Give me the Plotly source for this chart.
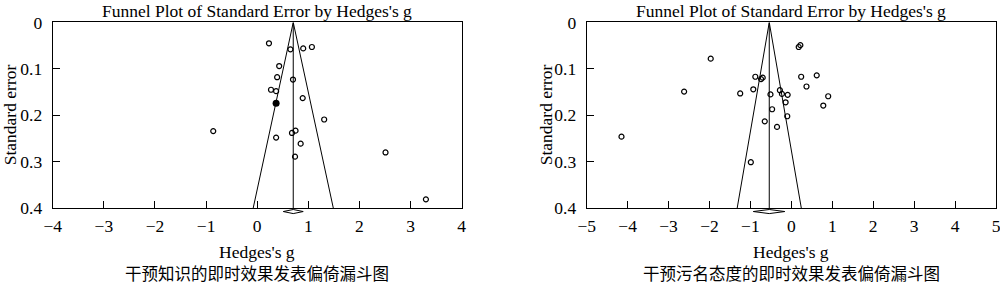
import plotly.graph_objects as go

# ---- data: left panel (knowledge) ----
know_g = [0.23, 0.65, 0.90, 1.07, 0.43, 0.39, 0.70, 0.27, 0.37, 0.89, 1.31, -0.86,
          0.37, 0.68, 0.75, 0.85, 0.74, 2.51, 3.30]
know_se = [0.045, 0.058, 0.056, 0.053, 0.094, 0.118, 0.123, 0.145, 0.148, 0.163, 0.209, 0.234,
           0.248, 0.238, 0.233, 0.261, 0.289, 0.280, 0.381]
know_filled_g = [0.37]
know_filled_se = [0.174]
know_mean = 0.705
know_ci = [0.51, 0.90]

# ---- data: right panel (stigma attitude) ----
stig_g = [0.18, 0.22, 0.24, 0.62, 0.37, 0.90, 0.78, -0.88, -0.74, -0.70, -0.93, -1.25,
          -0.51, -0.28, -0.23, -0.09, -0.14, -0.47, -0.10, -0.65, -0.35, -1.97, -2.62,
          -4.15, -0.99]
stig_se = [0.053, 0.049, 0.117, 0.114, 0.138, 0.159, 0.179, 0.117, 0.122, 0.119, 0.144, 0.153,
           0.155, 0.146, 0.154, 0.156, 0.172, 0.187, 0.202, 0.213, 0.225, 0.078, 0.149,
           0.246, 0.301]
stig_mean = -0.54
stig_ci = [-0.93, -0.16]

se_max = 0.4
title_text = "Funnel Plot of Standard Error by Hedges's g"
x_title = "Hedges's g"
y_title = "Standard error"
captions = ["干预知识的即时效果发表偏倚漏斗图", "干预污名态度的即时效果发表偏倚漏斗图"]
x_ranges = [[-4, 4], [-5, 5]]

SERIF = "Liberation Serif"
CJK = "Noto Sans CJK SC"

fig = go.Figure()

panels = [
    dict(g=know_g, se=know_se, mean=know_mean, ci=know_ci, xa="x", ya="y"),
    dict(g=stig_g, se=stig_se, mean=stig_mean, ci=stig_ci, xa="x2", ya="y2"),
]

for p in panels:
    m = p["mean"]
    # funnel
    fig.add_trace(go.Scatter(
        x=[m - 1.96 * se_max, m, m + 1.96 * se_max], y=[se_max, 0, se_max],
        mode="lines", line=dict(color="black", width=1),
        xaxis=p["xa"], yaxis=p["ya"], showlegend=False, hoverinfo="skip"))
    # mean line
    fig.add_trace(go.Scatter(
        x=[m, m], y=[0, se_max], mode="lines", line=dict(color="black", width=1),
        xaxis=p["xa"], yaxis=p["ya"], showlegend=False, hoverinfo="skip"))
    # studies
    fig.add_trace(go.Scatter(
        x=p["g"], y=p["se"], mode="markers",
        marker=dict(symbol="circle-open", size=5, color="black", line=dict(width=1.2)),
        xaxis=p["xa"], yaxis=p["ya"], showlegend=False, cliponaxis=False))
    # diamond below axis
    lo, hi = p["ci"]
    fig.add_shape(type="path",
                  path=f"M {lo} -0.018 L {m} -0.007 L {hi} -0.018 L {m} -0.029 Z",
                  xref=p["xa"], yref=p["ya"] + " domain",
                  line=dict(color="black", width=1), fillcolor="white")

fig.add_trace(go.Scatter(
    x=know_filled_g, y=know_filled_se, mode="markers",
    marker=dict(symbol="circle", size=7, color="black"),
    xaxis="x", yaxis="y", showlegend=False))

ydom = [1 - 208.2 / 284, 1 - 22.4 / 284]
xdoms = [[0.0527, 0.4617], [0.5867, 0.996]]

axis_common = dict(showline=True, mirror=True, linecolor="black", linewidth=1,
                   ticks="inside", tickcolor="black", tickwidth=1, ticklen=7,
                   showgrid=False, zeroline=False, automargin=False,
                   ticklabeloverflow="allow",
                   tickfont=dict(family=SERIF, size=17.5, color="black"))

layout = dict(
    width=1000, height=284, margin=dict(l=0, r=0, t=0, b=0, autoexpand=False),
    paper_bgcolor="white", plot_bgcolor="white", showlegend=False,
    font=dict(family=SERIF, color="black"),
)
for i, (xd, xr) in enumerate(zip(xdoms, x_ranges)):
    sfx = "" if i == 0 else "2"
    layout["xaxis" + sfx] = dict(domain=xd, range=xr, dtick=1, tick0=0,
                                 anchor="y" + sfx, ticklabelstandoff=2, **axis_common)
    layout["yaxis" + sfx] = dict(domain=ydom, range=[se_max, 0], dtick=0.1, tick0=0,
                                 anchor="x" + sfx, ticklabelstandoff=6,
                                 tickformat=".1~f", **axis_common)

fig.update_layout(**layout)

anns = []
for i, xd in enumerate(xdoms):
    cx = (xd[0] + xd[1]) / 2
    anns.append(dict(text=title_text, x=cx, y=1, xref="paper", yref="paper",
                     showarrow=False, xanchor="center", yanchor="top", borderpad=0,
                     font=dict(family=SERIF, size=17.5, color="black")))
    anns.append(dict(text=x_title, x=cx, y=1 - 251.5 / 284, xref="paper", yref="paper",
                     showarrow=False, xanchor="center", yanchor="middle", borderpad=0,
                     font=dict(family=SERIF, size=17.5, color="black")))
    anns.append(dict(text=captions[i], x=cx, y=0, xref="paper", yref="paper", yshift=-2,
                     showarrow=False, xanchor="center", yanchor="bottom", borderpad=0,
                     font=dict(family=CJK, size=16.5, color="black")))
    yx = (10 if i == 0 else 546) / 1000
    anns.append(dict(text=y_title, x=yx, y=(ydom[0] + ydom[1]) / 2, xref="paper", yref="paper",
                     showarrow=False, xanchor="center", yanchor="middle", textangle=-90,
                     font=dict(family=SERIF, size=17.5, color="black")))
fig.update_layout(annotations=anns)

fig.write_html("out.html")
